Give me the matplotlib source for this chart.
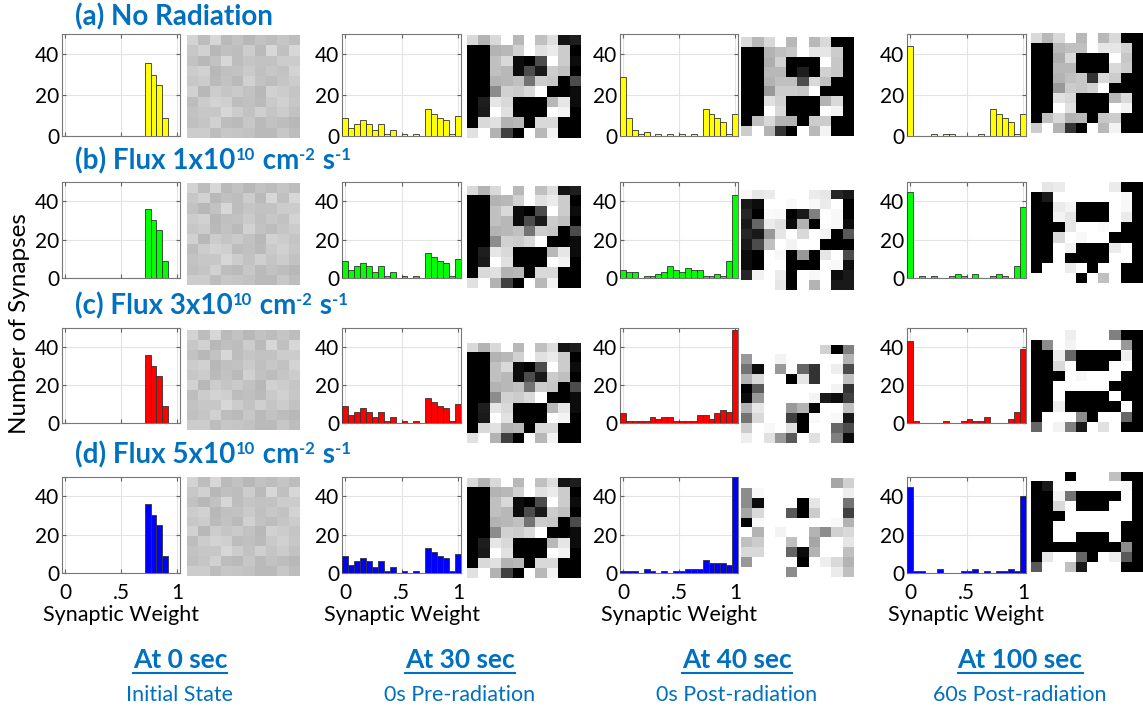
import numpy as np
import matplotlib
matplotlib.use("Agg")
import matplotlib.pyplot as plt
from matplotlib.lines import Line2D

plt.rcParams['font.family'] = ['Lato', 'DejaVu Sans']

W, H = 1143, 711
BLUE = '#0070C0'

# histogram bins (20 bins, centres 0..1)
bin_centers = np.linspace(0, 1, 20)

# counts per bin
counts_0s = [0, 0, 0, 0, 0, 0, 0, 0, 0, 0, 0, 0, 0, 0, 36, 30, 25, 9, 0, 0]
counts_30s = [9, 4, 6, 8, 6, 3, 6, 1, 3, 0, 1, 0, 1, 0, 13, 11, 9, 8, 1, 10]
counts_40s = [
    [29, 9, 3, 1, 2, 0, 1, 0, 1, 0, 1, 0, 1, 0, 13, 11, 9, 7, 1, 11],
    [4, 3, 3, 0, 1, 1, 2, 3, 6, 4, 3, 5, 4, 4, 1, 1, 2, 1, 9, 43],
    [5, 1, 1, 1, 1, 3, 2, 3, 3, 1, 1, 1, 1, 4, 4, 2, 5, 7, 6, 49],
    [1, 1, 1, 0, 2, 1, 0, 1, 0, 1, 1, 2, 2, 2, 7, 5, 5, 5, 4, 50],
]
counts_100s = [
    [44, 0, 0, 0, 1, 0, 1, 1, 0, 0, 0, 0, 1, 0, 13, 11, 9, 7, 1, 11],
    [45, 0, 1, 0, 1, 0, 0, 1, 2, 1, 0, 2, 0, 0, 1, 2, 1, 0, 6, 37],
    [43, 1, 0, 0, 0, 0, 1, 0, 0, 1, 2, 1, 1, 3, 0, 0, 0, 2, 6, 39],
    [45, 1, 1, 0, 0, 2, 0, 0, 0, 1, 1, 2, 0, 1, 0, 1, 1, 2, 1, 40],
]

# 10x10 synaptic weight maps
img_0s = [
    [.83, .74, .84, .73, .76, .72, .76, .74, .77, .74],
    [.78, .82, .72, .75, .74, .80, .73, .84, .75, .84],
    [.76, .72, .76, .84, .74, .77, .76, .76, .80, .80],
    [.80, .82, .72, .75, .76, .79, .75, .78, .76, .83],
    [.78, .80, .73, .76, .73, .82, .76, .74, .77, .80],
    [.82, .72, .80, .77, .79, .76, .72, .82, .80, .77],
    [.74, .80, .83, .81, .74, .75, .73, .79, .82, .78],
    [.76, .78, .78, .84, .80, .76, .81, .77, .80, .76],
    [.75, .77, .82, .74, .73, .78, .73, .76, .74, .72],
    [.80, .80, .74, .78, .77, .76, .73, .73, .78, .74],
]
img_30s = [
    [.85, .70, .85, 1.0, .72, 1.0, .75, .87, .08, .12],
    [0.0, 0.0, .70, .72, .82, 1.0, .88, .92, .80, 0.0],
    [0.0, 0.0, .75, .85, .05, 0.0, .30, 1.0, .80, .05],
    [0.0, 0.0, .75, .72, .05, .30, .10, .80, .75, 0.0],
    [0.0, 0.0, .70, .72, .75, .45, .80, .78, 0.0, .30],
    [0.0, 0.0, .55, .82, .80, .85, 1.0, 0.0, 0.0, .05],
    [0.0, .12, .90, .85, 0.0, 0.0, 0.0, .72, .90, .05],
    [0.0, .10, 1.0, .88, 0.0, 0.0, 0.0, 1.0, .95, 0.0],
    [0.0, .85, .88, .70, .72, 0.0, .85, .85, 0.0, 0.0],
    [.88, 1.0, .70, .25, 0.0, 1.0, .72, .95, 0.0, 0.0],
]
img_40s_a = [
    [.85, .72, .85, 1.0, .72, 1.0, .72, .85, 0.0, 0.0],
    [0.0, 0.0, .70, .75, .78, 1.0, .90, .90, .80, 0.0],
    [0.0, 0.0, .68, .82, 0.0, 0.0, 0.0, 1.0, .78, 0.0],
    [0.0, 0.0, .72, .72, 0.0, .12, 0.0, .82, .78, 0.0],
    [0.0, 0.0, .70, .75, .75, .30, .85, .75, 0.0, 0.0],
    [0.0, 0.0, .60, .80, .80, .78, 1.0, 0.0, 0.0, 0.0],
    [0.0, 0.0, .88, .82, 0.0, 0.0, 0.0, .70, .85, 0.0],
    [0.0, 0.0, 1.0, .85, 0.0, 0.0, 0.0, 1.0, .95, 0.0],
    [0.0, .75, .85, .70, .70, 0.0, .80, .80, 0.0, 0.0],
    [.80, 1.0, .70, .20, 0.0, 1.0, .72, .95, 0.0, 0.0],
]
img_40s_b = [
    [.97, .90, .92, 1.0, 1.0, 1.0, .92, .90, .15, .10],
    [.10, .05, 1.0, 1.0, .97, 1.0, .97, .92, 1.0, 0.0],
    [.15, 0.0, .98, .97, 0.0, .10, .50, 1.0, .97, 0.0],
    [.10, .40, .92, .88, .05, .70, 0.0, 1.0, .97, .05],
    [.15, .10, .60, .90, 1.0, .85, 1.0, .95, 0.0, .35],
    [.10, .30, .75, 1.0, .95, 1.0, 1.0, 0.0, 0.0, 0.0],
    [.05, 0.0, 1.0, .97, 0.0, .60, 0.0, .90, 1.0, .30],
    [.05, 0.0, 1.0, 1.0, 0.0, 0.0, 0.0, 1.0, .97, .05],
    [.15, .95, 1.0, .92, 0.0, 1.0, .97, 1.0, .05, .10],
    [1.0, 1.0, 1.0, .90, 0.0, 1.0, .70, 1.0, .10, .10],
]
img_40s_c = [
    [1.0, 1.0, 1.0, 1.0, 1.0, 1.0, 1.0, .82, 0.0, .50],
    [.60, 1.0, 1.0, .95, 1.0, 1.0, 1.0, 1.0, 1.0, .70],
    [.45, .05, 1.0, .60, 1.0, .40, .20, 1.0, .93, .30],
    [.70, .85, 1.0, 1.0, 0.0, .90, .20, 1.0, 1.0, .75],
    [0.0, .35, 1.0, 1.0, 1.0, 1.0, 1.0, 1.0, .95, .20],
    [.05, .60, 1.0, 1.0, 1.0, 1.0, .95, .10, .05, .25],
    [.70, .90, 1.0, 1.0, .60, .70, 0.0, 1.0, 1.0, .75],
    [.45, .85, 1.0, 1.0, .25, 0.0, .97, 1.0, .97, .10],
    [.80, 1.0, .97, 1.0, .88, 0.0, 1.0, 1.0, .40, .30],
    [.93, 1.0, .88, .60, .35, 1.0, .88, 1.0, .50, .05],
]
img_40s_d = [
    [1.0, 1.0, 1.0, 1.0, 1.0, 1.0, 1.0, 1.0, .65, .82],
    [.55, .97, 1.0, 1.0, 1.0, 1.0, 1.0, 1.0, 1.0, .93],
    [.55, .05, 1.0, 1.0, 1.0, 0.0, .90, 1.0, 1.0, .45],
    [.65, .85, 1.0, 1.0, .35, 0.0, .80, 1.0, 1.0, .25],
    [0.0, .97, 1.0, 1.0, 1.0, 1.0, 1.0, 1.0, .97, .70],
    [1.0, .70, 1.0, .95, 1.0, 1.0, .70, .55, .82, .85],
    [.75, .80, 1.0, 1.0, .75, 1.0, .65, 1.0, 1.0, .90],
    [.85, .85, 1.0, 1.0, .40, .05, .70, 1.0, 1.0, .75],
    [.60, 1.0, 1.0, 1.0, 1.0, 0.0, 1.0, .93, .85, .70],
    [1.0, 1.0, 1.0, 1.0, .55, 1.0, 1.0, 1.0, .92, .75],
]
img_100s_a = [
    [.85, .72, .85, 1.0, .72, 1.0, .72, .85, 0.0, 0.0],
    [0.0, 0.0, .72, .75, .75, 1.0, .90, .90, .82, 0.0],
    [0.0, 0.0, .68, .85, 0.0, 0.0, 0.0, 1.0, .78, 0.0],
    [0.0, 0.0, .72, .72, 0.0, 0.0, 0.0, .85, .80, 0.0],
    [0.0, 0.0, .70, .75, .78, .20, .85, .80, 0.0, 0.0],
    [0.0, 0.0, .60, .80, .78, .82, 1.0, 0.0, 0.0, 0.0],
    [0.0, 0.0, .88, .85, 0.0, 0.0, 0.0, .72, .85, 0.0],
    [0.0, 0.0, 1.0, .88, 0.0, 0.0, 0.0, 1.0, .95, 0.0],
    [0.0, .75, .85, .70, .72, 0.0, .78, .80, 0.0, 0.0],
    [.80, 1.0, .70, .20, 0.0, 1.0, .72, .95, 0.0, 0.0],
]
img_100s_b = [
    [1.0, .90, .92, 1.0, 1.0, 1.0, 1.0, .92, 0.0, 0.0],
    [0.0, .10, 1.0, 1.0, 1.0, 1.0, 1.0, 1.0, .97, 0.0],
    [0.0, 0.0, .92, .95, 0.0, 0.0, 0.0, 1.0, .97, 0.0],
    [0.0, 0.0, .95, .90, 0.0, 0.0, 0.0, 1.0, .92, 0.0],
    [0.0, 0.0, 0.0, .90, 1.0, 1.0, .98, 1.0, 0.0, 0.0],
    [0.0, 0.0, .85, 1.0, .97, 1.0, 1.0, 0.0, 0.0, 0.0],
    [0.0, 0.0, 1.0, .95, 0.0, 0.0, 0.0, .92, 1.0, 0.0],
    [0.0, 0.0, 1.0, 0.0, 0.0, 0.0, 0.0, 1.0, 1.0, 0.0],
    [0.0, 1.0, 1.0, .92, 1.0, 0.0, 1.0, 1.0, 0.0, 0.0],
    [1.0, 1.0, 1.0, 1.0, 0.0, 1.0, .75, 1.0, 0.0, 0.0],
]
img_100s_c = [
    [1.0, 1.0, 1.0, .93, 1.0, 1.0, 1.0, .50, 0.0, 0.0],
    [0.0, .55, 1.0, .95, 1.0, 1.0, 1.0, 1.0, .60, 0.0],
    [0.0, 0.0, .93, .40, 0.0, 0.0, 0.0, 0.0, .93, 0.0],
    [0.0, 0.0, .85, 1.0, 0.0, 0.0, 0.0, 1.0, 1.0, 0.0],
    [0.0, 0.0, 0.0, 1.0, .97, 1.0, 1.0, 1.0, 0.0, 0.0],
    [0.0, 0.0, 1.0, 1.0, 1.0, 1.0, 1.0, 0.0, 0.0, 0.0],
    [0.0, 0.0, 1.0, 0.0, 0.0, 0.0, 0.0, 1.0, 0.0, 0.0],
    [0.0, 0.0, .93, 0.0, 0.0, 0.0, 0.0, 0.0, 1.0, 0.0],
    [0.0, 1.0, 1.0, 1.0, .55, 0.0, 1.0, 1.0, .40, 0.0],
    [.40, 1.0, .95, .50, .10, 1.0, .88, 1.0, 0.0, 0.0],
]
img_100s_d = [
    [1.0, 1.0, 1.0, 0.0, 1.0, 1.0, 1.0, .75, 0.0, 0.0],
    [0.0, .10, 1.0, 1.0, 1.0, 1.0, 1.0, 1.0, .97, 0.0],
    [0.0, 0.0, .95, .45, 0.0, 0.0, 0.0, 0.0, 1.0, 0.0],
    [0.0, 0.0, .85, 1.0, 0.0, 0.0, 0.0, 1.0, 1.0, 0.0],
    [0.0, 0.0, 0.0, 1.0, 1.0, 1.0, 1.0, 1.0, 1.0, 0.0],
    [0.0, 0.0, 1.0, 1.0, 1.0, 1.0, 1.0, 1.0, 0.0, 0.0],
    [0.0, 0.0, 1.0, 1.0, 0.0, 0.0, 0.0, 1.0, 0.0, 0.0],
    [0.0, 0.0, 0.0, 0.0, 0.0, 0.0, 0.0, 0.0, .55, 0.0],
    [0.0, .90, 1.0, 1.0, .40, 0.0, 1.0, .93, .35, 0.0],
    [.35, 1.0, 1.0, .75, .10, 1.0, 1.0, 1.0, 0.0, 0.0],
]

# row titles as (text, is_superscript) pieces
row_titles = [
    [('(a) No Radiation', False)],
    [('(b) Flux 1x10', False), ('10', True), (' cm', False), ('-2', True), (' s', False), ('-1', True)],
    [('(c) Flux 3x10', False), ('10', True), (' cm', False), ('-2', True), (' s', False), ('-1', True)],
    [('(d) Flux 5x10', False), ('10', True), (' cm', False), ('-2', True), (' s', False), ('-1', True)],
]
row_colors = ['#FFFF00', '#00FF00', '#FF0000', '#0000FF']
col_times = ['At 0 sec', 'At 30 sec', 'At 40 sec', 'At 100 sec']
col_notes = ['Initial State', '0s Pre-radiation', '0s Post-radiation', '60s Post-radiation']

hist_data = [[counts_0s, counts_30s, counts_40s[r], counts_100s[r]] for r in range(4)]
img_data = [
    [img_0s, img_30s, img_40s_a, img_100s_a],
    [img_0s, img_30s, img_40s_b, img_100s_b],
    [img_0s, img_30s, img_40s_c, img_100s_c],
    [img_0s, img_30s, img_40s_d, img_100s_d],
]

# layout in pixels (left, right) / (top, bottom)
hist_x = [(62, 180), (342, 461), (620, 738), (907, 1026)]
img_x = [(187, 300), (467, 581), (741, 854), (1031, 1143)]
hist_y = [(34, 136), (182, 278), (328, 423), (477, 573)]
img_y = [
    [(35, 138), (35, 138), (37, 136), (33, 133)],
    [(183, 285), (186, 288), (190, 290), (182, 283)],
    [(330, 430), (343, 443), (345, 443), (330, 432)],
    [(477, 576), (478, 578), (478, 577), (472, 572)],
]
title_base = [25, 169, 314, 463]


def px_axes(fig, xs, ys):
    x0, x1 = xs
    y0, y1 = ys
    return fig.add_axes([x0 / W, 1 - y1 / H, (x1 - x0) / W, (y1 - y0) / H])


fig = plt.figure(figsize=(W / 100, H / 100), dpi=100)
renderer = fig.canvas.get_renderer()

# row titles, drawn piece by piece so the superscripts sit like the original
for r in range(4):
    x = 75
    for txt, sup in row_titles[r]:
        y = title_base[r] - (9 if sup else 0)
        t = fig.text(x / W, 1 - y / H, txt, color=BLUE,
                     fontsize=12 if sup else 20, fontweight='bold',
                     ha='left', va='baseline')
        x = t.get_window_extent(renderer).x1 + (1 if sup else 0)

for r in range(4):
    for c in range(4):
        ax = px_axes(fig, hist_x[c], hist_y[r])
        ax.bar(bin_centers, hist_data[r][c], width=1 / 19, color=row_colors[r],
               edgecolor='#333333', linewidth=0.6, zorder=3)
        ax.set_xlim(-0.5 / 19, 1 + 0.5 / 19)
        ax.set_ylim(0, 50)
        ax.set_xticks([0, 0.5, 1])
        ax.set_yticks([0, 20, 40])
        ax.grid(True, color='#e3e3e3', linewidth=0.8, zorder=0)
        ax.tick_params(direction='in', top=True, right=True, length=3,
                       color='#666666', labelsize=15, pad=2)
        ax.tick_params(axis='x', pad=7)
        for s in ax.spines.values():
            s.set_color('#777777')
            s.set_linewidth(0.8)
        if r == 3:
            ax.set_xticklabels(['0', '.5', '1'])
            ax.set_xlabel('Synaptic Weight', fontsize=15.5)
            ax.xaxis.set_label_coords(0.5, -0.33)
        else:
            ax.set_xticklabels([])

        iax = px_axes(fig, img_x[c], img_y[r][c])
        iax.imshow(np.array(img_data[r][c]), cmap='gray', vmin=0, vmax=1,
                   aspect='auto', interpolation='nearest')
        iax.axis('off')

fig.text(20 / W, 1 - 324 / H, 'Number of Synapses', rotation=90, fontsize=17.5,
         ha='center', va='center')

centers = [180, 460, 737, 1020]
time_texts = []
for c in range(4):
    t = fig.text(centers[c] / W, 1 - 660 / H, col_times[c], color=BLUE,
                 fontsize=19, fontweight='bold', ha='center', va='center')
    time_texts.append(t)
    fig.text(centers[c] / W, 1 - 695 / H, col_notes[c], color=BLUE,
             fontsize=15.5, ha='center', va='center')

# underline the time labels
for t in time_texts:
    bb = t.get_window_extent(renderer)
    y = (bb.y0 - 1) / H
    fig.add_artist(Line2D([bb.x0 / W, bb.x1 / W], [y, y], color=BLUE, linewidth=1.5))

fig.savefig('out.png', dpi=100)
